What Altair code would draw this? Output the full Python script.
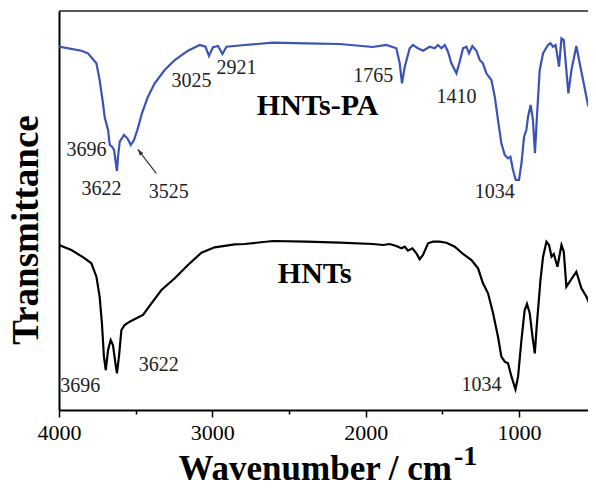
import altair as alt
import pandas as pd

# HNTs-PA (blue, upper curve): wavenumber (cm-1) and transmittance (a.u.)
pa_wn = [4000, 3854, 3811, 3756, 3735, 3713, 3702, 3680, 3669, 3654, 3641, 3622, 3615, 3604,
         3576, 3554, 3532, 3511, 3489, 3459, 3420, 3376, 3311, 3245, 3159, 3082, 3045, 3022,
         2996, 2963, 2934, 2908, 2789, 2606, 2386, 2169, 1954, 1865, 1800, 1778, 1763, 1745,
         1713, 1691, 1659, 1626, 1582, 1550, 1528, 1506, 1484, 1463, 1441, 1408, 1387, 1365,
         1343, 1326, 1304, 1278, 1256, 1235, 1213, 1180, 1158, 1137, 1115, 1093, 1072, 1056,
         1039, 1021, 1000, 984, 967, 952, 941, 924, 909, 896, 883, 865, 843, 811, 795, 778,
         761, 739, 723, 708, 695, 678, 658, 626, 604, 578, 550, 528, 504]
pa_t = [363.3, 359.3, 356.7, 346.7, 330, 306.7, 292.7, 280, 265, 263.3, 260, 239, 253.3, 268.3,
        275, 271.7, 265, 270, 280, 296.7, 313.3, 326.7, 340, 350, 359.3, 365, 363.3, 354,
        362.7, 364, 356, 363.3, 365, 367.3, 366.7, 366, 363, 365, 361.7, 346.7, 326.7, 343.3,
        361.7, 365, 361.7, 359.3, 363.3, 361.7, 365, 361.7, 365, 358.3, 346.7, 336.7, 348.3, 361.7,
        363.3, 356.7, 364, 359.3, 350, 346.7, 336.7, 330, 313.3, 290, 266.7, 255, 251.7, 253.3,
        240, 230, 230, 246.7, 273.3, 280, 293.3, 305, 290, 256.7, 293.3, 340, 356.7, 365, 366.7, 363.3,
        365, 343.3, 371.7, 370, 346.7, 316.7, 340, 364, 346.7, 326.7, 305, 306.7, 336.7]

# HNTs (black, lower curve)
hnt_wn = [4000, 3919, 3832, 3789, 3756, 3735, 3720, 3707, 3695, 3680, 3663, 3648, 3632, 3622,
          3609, 3593, 3572, 3539, 3495, 3452, 3397, 3332, 3245, 3159, 3071, 2985, 2854, 2789,
          2604, 2386, 2169, 1952, 1887, 1843, 1800, 1767, 1745, 1724, 1695, 1669, 1648, 1626,
          1593, 1561, 1517, 1473, 1419, 1365, 1310, 1267, 1235, 1202, 1169, 1137, 1115, 1093,
          1072, 1049, 1023, 1006, 984, 963, 948, 930, 912, 897, 883, 860, 843, 821, 804, 788,
          773, 749, 723, 708, 691, 669, 626, 593, 560, 528, 500]
hnt_t = [165, 160, 151.7, 146.7, 133.3, 113.3, 86.7, 53.3, 40, 60, 70, 65, 46.7, 36.7,
         53.3, 80, 85, 88.3, 91.7, 95, 106.7, 120, 131.7, 145, 157.3, 162.7, 165.7, 166,
         169, 168.3, 167.3, 166, 165, 166, 164, 161.7, 163.3, 159.3, 161.7, 156.7, 150.7, 155,
         166.7, 168.3, 168.3, 167.3, 163.3, 156, 150, 141.7, 126.7, 116.7, 96.7, 73.3, 53.3, 48.3,
         46.7, 33.3, 20.7, 33.3, 70, 100, 106, 96.7, 73.3, 56.7, 86.7, 130, 153.3, 168.3, 165, 153.3,
         156, 143.3, 165, 158.3, 123.3, 128.3, 138.3, 121.7, 113.3, 101.7, 130]

# Peak labels
lab_text = ["3696", "3622", "3525", "3025", "2921", "1765", "1410", "1034",
            "3696", "3622", "1034"]
lab_wn = [3821, 3723, 3285, 3136, 2843, 1951, 1408, 1158, 3862, 3350, 1245]
lab_t = [260, 221, 218, 329, 342, 334, 313, 218, 24, 45, 25.5]

# Sample names
name_text = ["HNTs-PA", "HNTs"]
name_wn = [2313, 2332]
name_t = [304, 136]

# Arrow pointing at 3525 band (tail, head)
arrow_wn = [3366, 3486]
arrow_t = [236.7, 260.7]

series_names = ["HNTs-PA", "HNTs"]
series_colors = ["#3b52b6", "#000000"]

df = pd.concat([
    pd.DataFrame({"wn": pa_wn, "t": pa_t, "s": "HNTs-PA"}),
    pd.DataFrame({"wn": hnt_wn, "t": hnt_t, "s": "HNTs"}),
])
df_lab = pd.DataFrame({"wn": lab_wn, "t": lab_t, "txt": lab_text})
df_name = pd.DataFrame({"wn": name_wn, "t": name_t, "txt": name_text})
df_arrow = pd.DataFrame({"wn": arrow_wn, "t": arrow_t})
df_head = df_arrow.iloc[[1]]

FONT = "Liberation Serif"
W, H = 529, 399
xscale = alt.Scale(domain=[4000, 550], nice=False, zero=False)
yscale = alt.Scale(domain=[0, 399], nice=False, zero=False)

xaxis = alt.Axis(
    values=[4000, 3500, 3000, 2500, 2000, 1500, 1000],
    labelExpr="datum.value % 1000 == 0 ? format(datum.value, 'd') : ''",
    grid=False, title=None, domainColor="black", domainWidth=2,
    tickColor="black", tickWidth=1.5,
    tickSize={"condition": {"test": "datum.value % 1000 == 0", "value": 7}, "value": 4},
    labelFont=FONT, labelFontSize=22, labelColor="black", labelPadding=5,
    labelFlush=False, labelOverlap=False,
)
yaxis = alt.Axis(labels=False, ticks=False, grid=False, title=None,
                 domainColor="black", domainWidth=2)

lines = alt.Chart(df).mark_line(strokeWidth=2.2, clip=True).encode(
    x=alt.X("wn:Q", scale=xscale, axis=xaxis),
    y=alt.Y("t:Q", scale=yscale, axis=yaxis),
    color=alt.Color("s:N", scale=alt.Scale(domain=series_names, range=series_colors), legend=None),
    detail="s:N",
)

top_border = alt.Chart(pd.DataFrame({"k": [0]})).mark_rule(color="#222222", strokeWidth=1.5).encode(
    x=alt.value(0), x2=alt.value(W), y=alt.value(0))

labels = alt.Chart(df_lab).mark_text(font=FONT, fontSize=20, color="#222222",
                                     baseline="middle", align="center").encode(
    x=alt.X("wn:Q", scale=xscale), y=alt.Y("t:Q", scale=yscale), text="txt:N")

names = alt.Chart(df_name).mark_text(font=FONT, fontSize=30, fontWeight="bold", color="black",
                                     baseline="middle", align="center").encode(
    x=alt.X("wn:Q", scale=xscale), y=alt.Y("t:Q", scale=yscale), text="txt:N")

arrow_line = alt.Chart(df_arrow).mark_line(color="#333333", strokeWidth=1.2).encode(
    x=alt.X("wn:Q", scale=xscale), y=alt.Y("t:Q", scale=yscale))
arrow_head = alt.Chart(df_head).mark_point(
    shape="M0,0L-0.7,2L0.7,2Z", size=40, angle=323, filled=True, color="#333333", opacity=1
).encode(x=alt.X("wn:Q", scale=xscale), y=alt.Y("t:Q", scale=yscale))

ytitle = alt.Chart(pd.DataFrame({"txt": ["Transmittance"]})).mark_text(
    font=FONT, fontSize=37, fontWeight="bold", angle=270, color="black",
    baseline="middle", align="center").encode(
    x=alt.value(-32.5), y=alt.value(219), text="txt:N")
xtitle = alt.Chart(pd.DataFrame({"txt": ["Wavenumber / cm"]})).mark_text(
    font=FONT, fontSize=35, fontWeight="bold", color="black",
    baseline="alphabetic", align="right").encode(
    x=alt.value(393), y=alt.value(469), text="txt:N")
xsup = alt.Chart(pd.DataFrame({"txt": ["-1"]})).mark_text(
    font=FONT, fontSize=28, fontWeight="bold", color="black",
    baseline="alphabetic", align="left").encode(
    x=alt.value(395), y=alt.value(454), text="txt:N")

chart = alt.layer(lines, top_border, arrow_line, arrow_head, labels, names, ytitle, xtitle, xsup).properties(
    width=W, height=H,
    padding={"left": 51, "top": 3, "right": 0, "bottom": 72},
    autosize=alt.AutoSizeParams(type="none"),
).configure_view(stroke=None)

chart.save("out.html", embed_options={"renderer": "svg", "actions": False})
